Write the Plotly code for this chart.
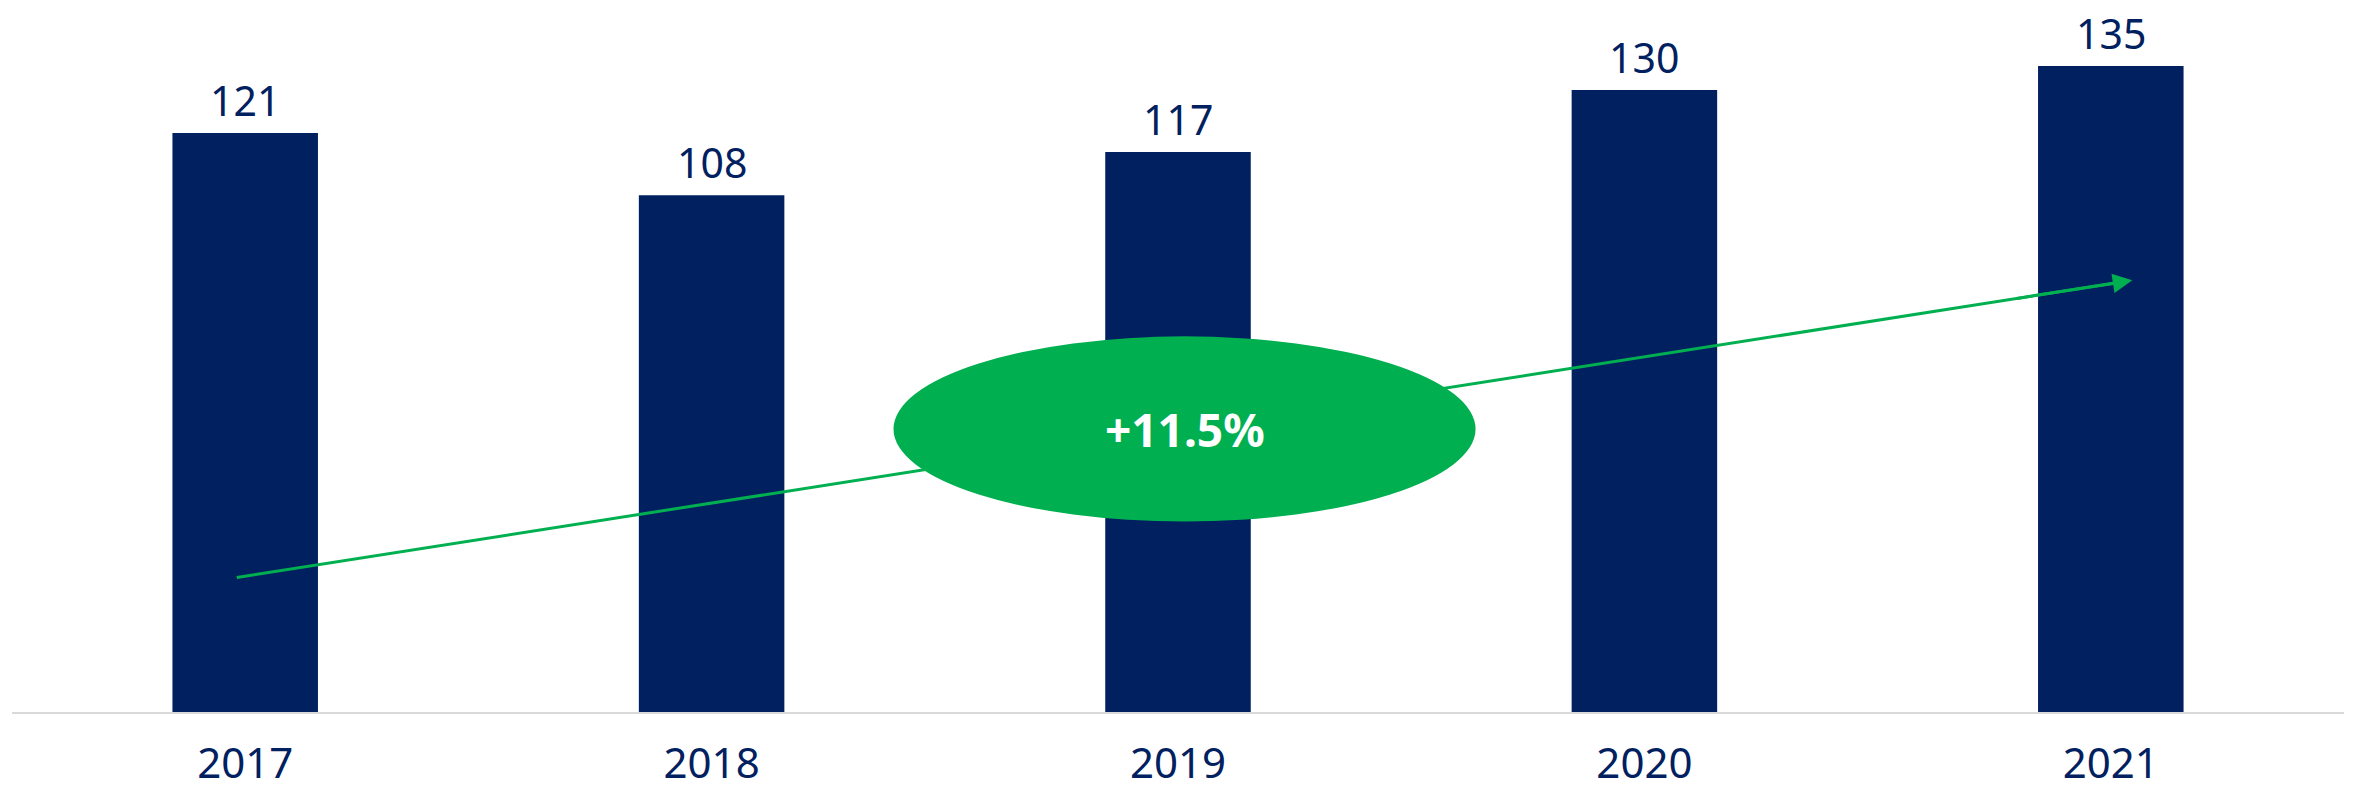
import plotly.graph_objects as go

# Annual values
years = ["2017", "2018", "2019", "2020", "2021"]
values = [121, 108, 117, 130, 135]
growth_label = "+11.5%"

NAVY = "#002060"
GREEN = "#00B050"
FONT = "Noto Sans"

fig = go.Figure()
fig.add_trace(go.Bar(
    x=years,
    y=values,
    width=0.312,
    marker=dict(color=NAVY, line=dict(width=0)),
    hoverinfo="skip",
))

# Value labels above each bar (category axis positions by index)
for i, v in enumerate(values):
    fig.add_annotation(
        x=i, y=v, xref="x", yref="y", text=str(v), showarrow=False,
        xanchor="center", yanchor="bottom", yshift=4, borderpad=0,
        font=dict(family=FONT, size=41, color=NAVY),
    )

# Trend line from the first to the last year (line under the ellipse)
line_x0, line_y0 = -0.018, 28.1
line_x1, line_y1 = 4.046, 90.2
fig.add_shape(
    type="line", xref="x", yref="y",
    x0=line_x0, y0=line_y0, x1=line_x1 - 0.02, y1=line_y1 - 0.3,
    line=dict(color=GREEN, width=3), layer="above",
)

# Growth ellipse
fig.add_shape(
    type="circle", xref="x", yref="y",
    x0=1.390, x1=2.638, y0=39.8, y1=78.5,
    fillcolor=GREEN, line=dict(width=0), layer="above",
)
fig.add_annotation(
    x=2.014, y=59.1, xref="x", yref="y", text="<b>" + growth_label + "</b>",
    showarrow=False, xanchor="center", yanchor="middle",
    font=dict(family=FONT, size=46, color="white"),
)

# Arrow head at the end of the trend line
fig.add_annotation(
    x=line_x1, y=line_y1, ax=line_x1 - 0.25, ay=line_y1 - 0.25 * (line_y1 - line_y0) / (line_x1 - line_x0),
    xref="x", yref="y", axref="x", ayref="y", text="",
    showarrow=True, arrowhead=2, arrowsize=1.3, arrowwidth=3, arrowcolor=GREEN,
    standoff=0, startstandoff=0,
)

fig.update_layout(
    width=2354, height=797,
    margin=dict(l=12, r=10, t=10, b=85, autoexpand=False),
    paper_bgcolor="white", plot_bgcolor="white",
    showlegend=False,
    xaxis=dict(
        type="category", range=[-0.5, 4.5], automargin=False,
        showline=True, linecolor="#D9D9D9", linewidth=2,
        showgrid=False, zeroline=False,
        ticks="outside", ticklen=14, tickcolor="rgba(0,0,0,0)",
        tickfont=dict(family=FONT, size=42, color=NAVY),
    ),
    yaxis=dict(
        range=[0, 146.7], visible=False, showgrid=False, zeroline=False,
        automargin=False,
    ),
)

fig.write_html("out.html")
